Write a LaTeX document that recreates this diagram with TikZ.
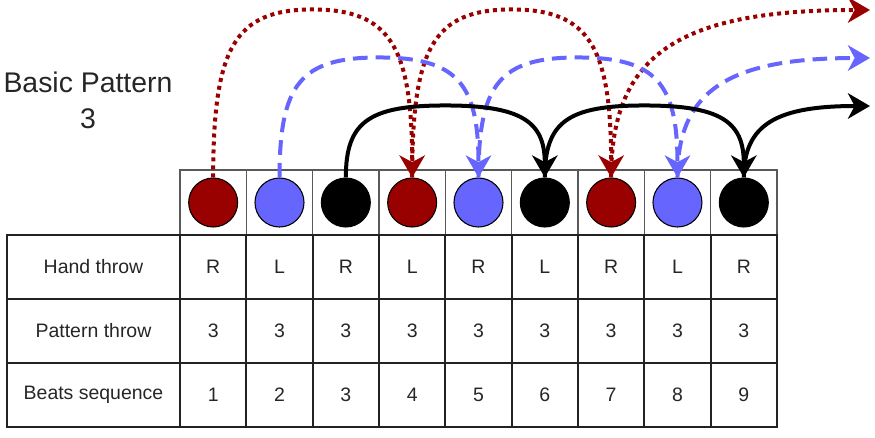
\documentclass[tikz,border=0pt]{standalone}
\usepackage{fontspec}
\setmainfont{Liberation Sans}
\usetikzlibrary{arrows.meta,calc}
\definecolor{ballred}{HTML}{990000}
\definecolor{ballblue}{HTML}{6666FF}
\definecolor{gridline}{HTML}{222222}

\begin{document}
\begin{tikzpicture}[x=0.75pt,y=0.75pt,
    cell/.style={draw=gridline,line width=1.4pt,minimum width=49.75pt,minimum height=48pt,inner sep=0pt,text=black!85,font=\fontsize{14.6}{16}\selectfont},
    ballcell/.style={draw=gray!70!black,line width=0.9pt,minimum width=49.75pt,minimum height=48.75pt,inner sep=0pt},
    ball/.style={circle,draw=black,line width=0.8pt,minimum size=36.75pt,inner sep=0pt},
    throw/.style={line width=3pt,-{Stealth[length=16.5pt,width=19pt,inset=5pt]}},
    redthrow/.style={throw,ballred,dash pattern=on 3pt off 3pt},
    bluethrow/.style={throw,ballblue,dash pattern=on 11pt off 6pt},
    blackthrow/.style={throw,black}]
  \useasboundingbox (0,0) rectangle (875,437);
  % title
  \node[align=center,text=black!85,font=\fontsize{21.3}{27}\selectfont] (title) at (88,101+236) {Basic Pattern\\3};
  % table
  \node[cell,minimum width=129.75pt] (handlbl) at (93.5,170) {Hand throw};
  \node[cell,minimum width=129.75pt] (pattlbl) at (93.5,106) {Pattern throw};
  \node[cell,minimum width=129.75pt] (beatlbl) at (93.5,42) {Beats sequence};
  \foreach \i/\h/\c in {1/R/ballred,2/L/ballblue,3/R/black,4/L/ballred,5/R/ballblue,6/L/black,7/R/ballred,8/L/ballblue,9/R/black}{
    \pgfmathsetmacro\cx{146.84+66.33*\i}
    \node[ballcell] (slot\i) at (\cx,234.5) {};
    \node[ball,fill=\c] (ball\i) at (\cx,234.5) {};
    \node[cell] (hand\i) at (\cx,170) {\h};
    \node[cell] (patt\i) at (\cx,106) {3};
    \node[cell] (beat\i) at (\cx,42) {\i};
  }
  % throws
  \coordinate (redend) at (870,427);
  \coordinate (blueend) at (870,379);
  \coordinate (blackend) at (870,331);
  \draw[redthrow] (ball1.north) .. controls +(0,130) and +(-78,0) .. ($(ball1.north)!.5!(ball4.north)+(0,168)$) .. controls +(78,0) and +(0,130) .. (ball4.north);
  \draw[redthrow] (ball4.north) .. controls +(0,130) and +(-78,0) .. ($(ball4.north)!.5!(ball7.north)+(0,168)$) .. controls +(78,0) and +(0,130) .. (ball7.north);
  \draw[redthrow] (ball7.north) .. controls +(0,124) and +(-190,0) .. (redend);
  \draw[bluethrow] (ball2.north) .. controls +(0,94) and +(-78,0) .. ($(ball2.north)!.5!(ball5.north)+(0,120)$) .. controls +(78,0) and +(0,94) .. (ball5.north);
  \draw[bluethrow] (ball5.north) .. controls +(0,94) and +(-78,0) .. ($(ball5.north)!.5!(ball8.north)+(0,120)$) .. controls +(78,0) and +(0,94) .. (ball8.north);
  \draw[bluethrow] (ball8.north) .. controls +(0,88) and +(-140,0) .. (blueend);
  \draw[blackthrow] (ball3.north) .. controls +(0,56) and +(-76,0) .. ($(ball3.north)!.5!(ball6.north)+(0,72)$) .. controls +(76,0) and +(0,56) .. (ball6.north);
  \draw[blackthrow] (ball6.north) .. controls +(0,56) and +(-76,0) .. ($(ball6.north)!.5!(ball9.north)+(0,72)$) .. controls +(76,0) and +(0,56) .. (ball9.north);
  \draw[blackthrow] (ball9.north) .. controls +(0,54) and +(-92,0) .. (blackend);
\end{tikzpicture}
\end{document}
